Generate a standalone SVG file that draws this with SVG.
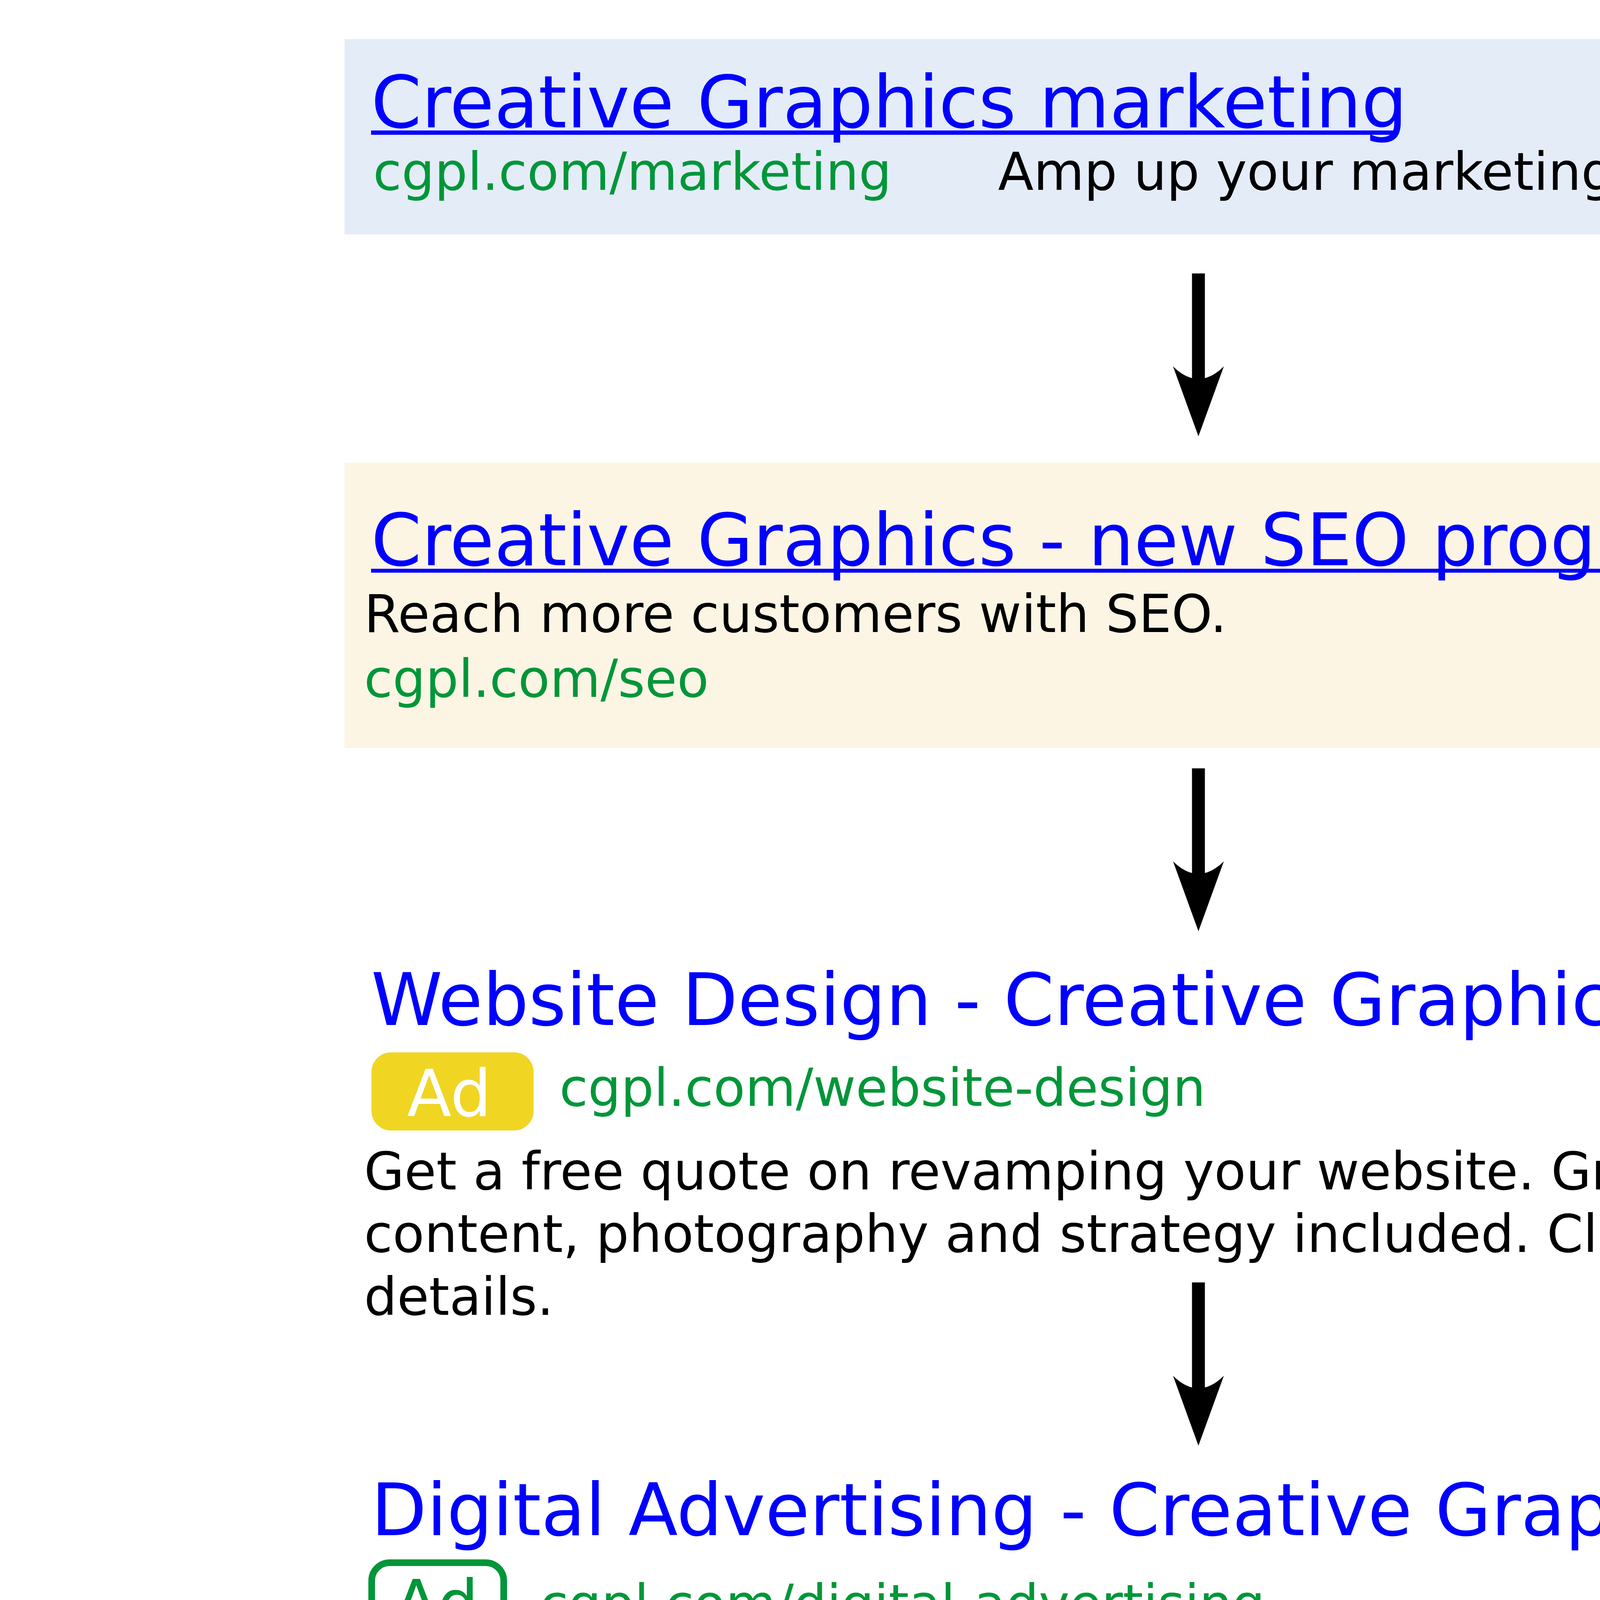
<svg xmlns="http://www.w3.org/2000/svg" width="6783" height="5000" viewBox="0 0 6783 5000">
<style>
text{font-family:"DejaVu Sans","Verdana","Liberation Sans",sans-serif;}
.title{font-size:185px;fill:#0000ff;}
.body{font-size:133px;fill:#000000;}
.url{font-size:133px;fill:#009639;}
.link{font-size:133px;fill:#0000ff;}
.ad{font-size:166px;}
.ul{fill:#0000ff;}
</style>
<defs>
<marker id="head" viewBox="0 0 179 130" markerWidth="179" markerHeight="130" refX="32" refY="65" orient="auto" markerUnits="userSpaceOnUse">
<path d="M0,0 Q64,65 0,130 L179,65 Z" fill="#000"/>
</marker>
</defs>
<rect width="6783" height="5000" fill="#ffffff"/>
<g id="node-marketing">
<rect x="882" y="100" width="4838" height="500" fill="#e4ecf8"/>
<text class="title" x="950" y="326">Creative Graphics marketing</text>
<rect class="ul" x="950" y="334" width="2627" height="11"/>
<text class="url" x="955" y="486">cgpl.com/marketing</text>
<text class="body" x="2555" y="486">Amp up your marketing efforts today.</text>
</g>
<g id="node-seo">
<rect x="882" y="1184" width="4819" height="731" fill="#fdf5e4"/>
<text class="title" x="950" y="1447">Creative Graphics - new SEO program for MN</text>
<rect class="ul" x="950" y="1456" width="4183" height="10"/>
<text class="body" x="932" y="1618">Reach more customers with SEO.</text>
<text class="url" x="932" y="1784">cgpl.com/seo</text>
</g>
<g id="node-website">
<text class="title" x="950" y="2624">Website Design - Creative Graphics</text>
<rect x="951" y="2694" width="415" height="200" rx="50" ry="50" fill="#f0d523"/>
<text class="ad" x="1042" y="2857" fill="#ffffff">Ad</text>
<text class="url" x="1432" y="2831">cgpl.com/website-design</text>
<text class="body" x="932" y="3045">Get a free quote on revamping your website. Graphic design,</text>
<text class="body" x="932" y="3205">content, photography and strategy included. Click here for more</text>
<text class="body" x="932" y="3366">details.</text>
</g>
<g id="node-digital">
<text class="title" x="950" y="3930">Digital Advertising - Creative Graphics</text>
<rect x="951.5" y="4000.5" width="338" height="198" rx="46" ry="46" fill="none" stroke="#009639" stroke-width="17"/>
<text class="ad" x="1009" y="4163" fill="#009639">Ad</text>
<text class="url" x="1382" y="4152">cgpl.com/digital-advertising</text>
<text class="body" x="932" y="4369">Today, it’s easier than ever to advertise on Google, Facebook,</text>
<text class="body" x="932" y="4529">websites and more. See the full list of how you can promote your</text>
<text class="body" x="932" y="4689">business on the web.</text>
<text class="link" x="932" y="4869">Advertising</text>
<text class="link" x="1770" y="4869">Pay-Per-Click</text>
<text class="link" x="2750" y="4869">Graphic Design</text>
<text class="link" x="3853" y="4869">Media Placement</text>
</g>
<g id="connectors" stroke="#000" stroke-width="33" fill="none">
<line x1="3068" y1="700" x2="3068" y2="970" marker-end="url(#head)"/>
<line x1="3068" y1="1967" x2="3068" y2="2237" marker-end="url(#head)"/>
<line x1="3068" y1="3283" x2="3068" y2="3554" marker-end="url(#head)"/>
</g>
</svg>
